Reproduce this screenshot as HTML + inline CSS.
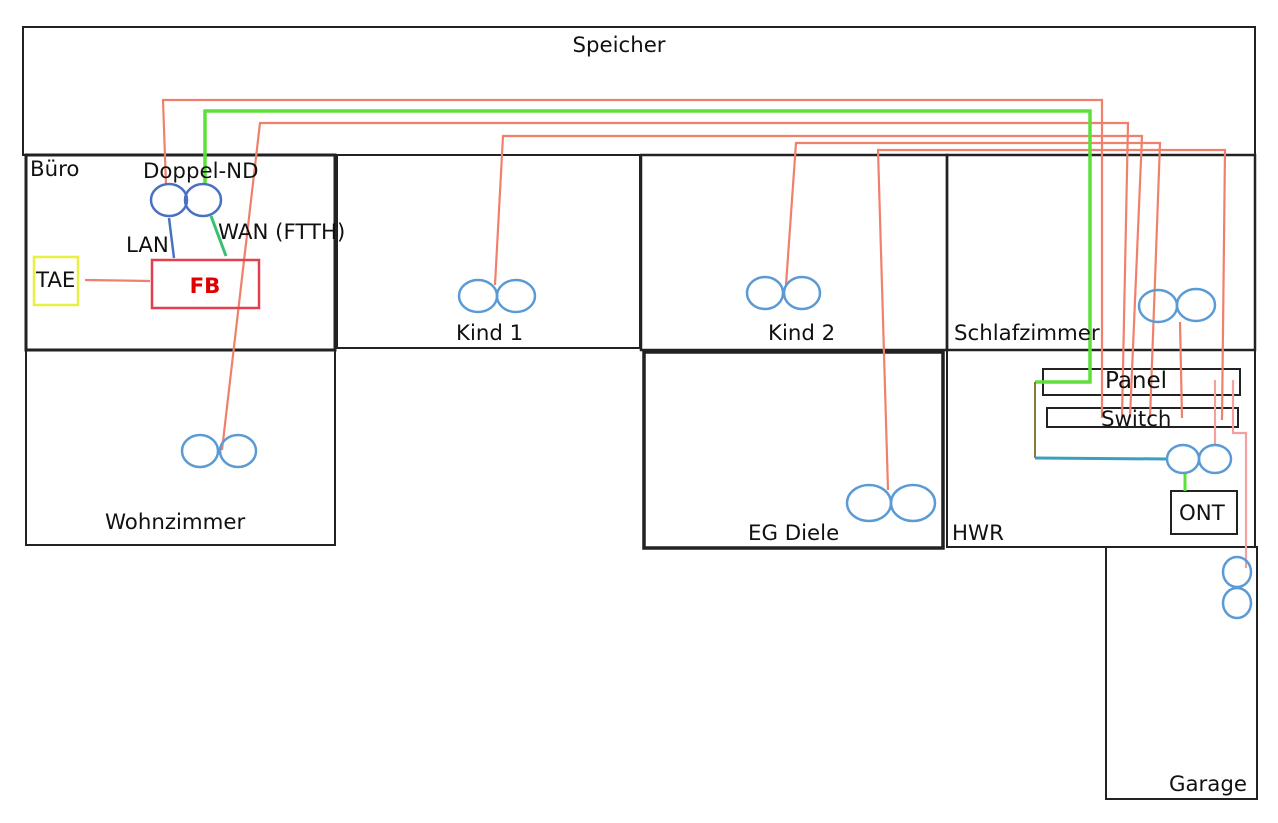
<!DOCTYPE html>
<html><head><meta charset="utf-8"><style>
html,body{margin:0;padding:0;background:#fff;}
svg text{font-family:"DejaVu Sans","Liberation Sans",sans-serif;font-size:21.3px;fill:#111;}
</style></head><body>
<svg width="1278" height="818" viewBox="0 0 1278 818" xmlns="http://www.w3.org/2000/svg">
<g fill="none" stroke="#222" stroke-width="2">
<rect x="23" y="27" width="1232" height="128"/>
<rect x="26" y="155" width="309" height="195" stroke-width="3"/>
<rect x="337" y="155" width="303" height="193"/>
<rect x="641" y="155" width="306" height="195" stroke-width="2.5"/>
<rect x="947" y="155" width="308" height="195" stroke-width="2.5"/>
<rect x="26" y="350" width="309" height="195"/>
<rect x="644" y="352" width="299" height="196" stroke-width="3.5"/>
<rect x="947" y="350" width="308" height="197"/>
<rect x="1106" y="547" width="151" height="252"/>
<rect x="1043" y="369" width="197" height="26"/>
<rect x="1047" y="408" width="191" height="19"/>
<rect x="1171" y="491" width="66" height="43"/>
</g>
<g fill="none" stroke="#f0806c" stroke-width="2.2">
<polyline points="166,185 163,100 1102,100 1102,418"/>
<polyline points="222,450 260,123 1128,123 1122,418"/>
<polyline points="495,285 503,136 1142,136 1130,418"/>
<polyline points="786,285 796,143 1160,143 1150,418"/>
<polyline points="888,490 878,150 1225,150 1222,420"/>
<line x1="1180" y1="322" x2="1182" y2="418"/>
<line x1="85" y1="280" x2="150" y2="281"/>
</g>
<g fill="none" stroke="#f2a0a0" stroke-width="2.2">
<line x1="1215" y1="380" x2="1215" y2="446"/>
<polyline points="1233,380 1233,433 1246,433 1246,568"/>
</g>
<polyline points="205,185 205,111 1090,111 1090,382 1035,382" fill="none" stroke="#5ee03a" stroke-width="3.5"/>
<polyline points="1035,382 1035,458" fill="none" stroke="#8a7a3a" stroke-width="2"/>
<line x1="1035" y1="458" x2="1168" y2="459" stroke="#3aa0c0" stroke-width="3"/>
<line x1="1185" y1="474" x2="1185" y2="491" stroke="#5ee03a" stroke-width="3"/>
<line x1="169" y1="218" x2="174" y2="258" stroke="#4a70c0" stroke-width="2.5"/>
<line x1="211" y1="216" x2="226" y2="256" stroke="#3ac070" stroke-width="3"/>
<rect x="152" y="260" width="107" height="48" fill="none" stroke="#e04050" stroke-width="2.5"/>
<rect x="34" y="257" width="44" height="48" fill="none" stroke="#e8f040" stroke-width="2.5"/>
<g fill="none" stroke="#4a70c0" stroke-width="2.5">
<ellipse cx="169" cy="200" rx="18" ry="16"/>
<ellipse cx="203" cy="200" rx="18" ry="16"/>
</g>
<g fill="none" stroke="#5b9bd5" stroke-width="2.5">
<ellipse cx="200" cy="451" rx="18" ry="16"/>
<ellipse cx="238" cy="451" rx="18" ry="16"/>
<ellipse cx="478" cy="296" rx="19" ry="16"/>
<ellipse cx="516" cy="296" rx="19" ry="16"/>
<ellipse cx="765" cy="293" rx="18" ry="16"/>
<ellipse cx="802" cy="293" rx="18" ry="16"/>
<ellipse cx="869" cy="503" rx="22" ry="18"/>
<ellipse cx="913" cy="503" rx="22" ry="18"/>
<ellipse cx="1158" cy="306" rx="19" ry="16"/>
<ellipse cx="1196" cy="305" rx="19" ry="16"/>
<ellipse cx="1183" cy="459" rx="16" ry="14"/>
<ellipse cx="1215" cy="459" rx="16" ry="14"/>
<ellipse cx="1237" cy="572" rx="14" ry="15"/>
<ellipse cx="1237" cy="603" rx="14" ry="15"/>
</g>
<text x="619" y="52" text-anchor="middle">Speicher</text>
<text x="30" y="176">Büro</text>
<text x="143" y="178">Doppel-ND</text>
<text x="218" y="239">WAN (FTTH)</text>
<text x="126" y="252">LAN</text>
<text x="36" y="287">TAE</text>
<text x="205" y="293" text-anchor="middle" style="fill:#e00000;font-weight:bold">FB</text>
<text x="456" y="340">Kind 1</text>
<text x="768" y="340">Kind 2</text>
<text x="954" y="340">Schlafzimmer</text>
<text x="105" y="529">Wohnzimmer</text>
<text x="748" y="540">EG Diele</text>
<text x="952" y="540">HWR</text>
<text x="1105" y="388" style="font-size:23px">Panel</text>
<text x="1101" y="426">Switch</text>
<text x="1179" y="520">ONT</text>
<text x="1169" y="791">Garage</text>
</svg>
</body></html>
